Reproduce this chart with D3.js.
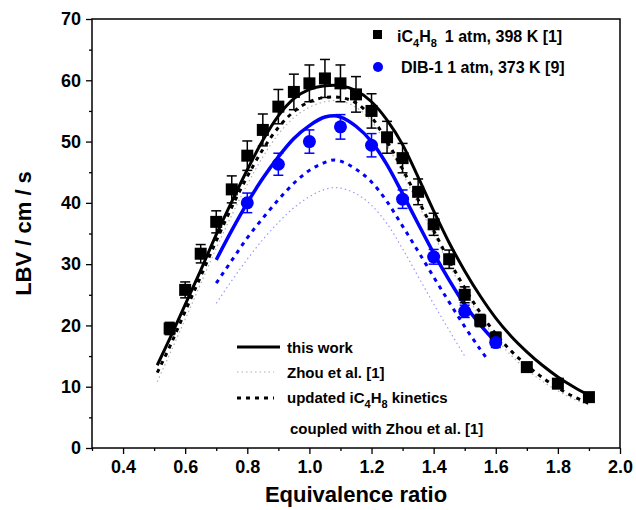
<!DOCTYPE html>
<html>
<head>
<meta charset="utf-8">
<script src="https://d3js.org/d3.v7.min.js"></script>
<style>
  body { margin: 0; background: #fff; }
  text { font-family: "Liberation Sans", Arial, sans-serif; font-weight: bold; }
</style>
</head>
<body>
<div class="chart"></div>
<script>

// Experimental data: iC4H8 1 atm, 398 K [1]
var phiIso = [0.55, 0.6, 0.65, 0.7, 0.75, 0.8, 0.85, 0.9, 0.95, 1.0, 1.05, 1.1, 1.15, 1.2, 1.25, 1.3, 1.35, 1.4, 1.45, 1.5, 1.55, 1.6, 1.7, 1.8, 1.9];
var lbvIso = [19.5, 25.8, 31.7, 36.9, 42.2, 47.7, 51.9, 55.7, 58.1, 59.5, 60.3, 59.5, 57.7, 55.0, 50.7, 47.3, 41.8, 36.5, 30.8, 25.0, 20.8, 18.0, 13.2, 10.5, 8.3];
var errIso = [1.0, 1.3, 1.5, 1.8, 2.2, 2.4, 2.6, 2.8, 2.9, 3.0, 3.1, 3.0, 2.9, 2.8, 2.6, 2.4, 2.1, 1.8, 1.5, 1.3, 1.0, 0.9, 0.7, 0.5, 0.4];

// Experimental data: DIB-1 1 atm, 373 K [9]
var phiDib = [0.8, 0.9, 1.0, 1.1, 1.2, 1.3, 1.4, 1.5, 1.6];
var lbvDib = [40.0, 46.3, 50.0, 52.4, 49.4, 40.6, 31.2, 22.3, 17.2];
var errDib = [1.6, 1.8, 1.9, 2.0, 1.9, 1.5, 1.2, 1.0, 0.8];

// Model curves, iC4H8
var phiIsoModel = [0.51, 0.55, 0.6, 0.65, 0.7, 0.75, 0.8, 0.85, 0.9, 0.95, 1.0, 1.05, 1.08, 1.1, 1.15, 1.2, 1.25, 1.3, 1.35, 1.4, 1.45, 1.5, 1.55, 1.6, 1.65, 1.7, 1.75, 1.8, 1.85, 1.9];
var isoThisWork = [13.5, 17.8, 23.4, 29.0, 34.8, 40.2, 45.4, 50.2, 54.2, 57.0, 58.5, 59.1, 59.2, 59.1, 58.3, 56.5, 53.5, 49.5, 44.2, 38.7, 33.5, 28.9, 24.8, 21.2, 18.2, 15.7, 13.5, 11.6, 10.0, 8.6];
var isoUpdated = [12.3, 16.5, 22.3, 28.0, 33.8, 39.3, 44.3, 48.7, 52.3, 54.9, 56.5, 57.2, 57.3, 57.2, 56.3, 54.0, 50.0, 45.5, 40.5, 35.5, 30.6, 26.1, 22.1, 18.6, 15.8, 13.5, 11.5, 9.8, 8.4, 7.3];
var isoZhou = [10.8, 15.3, 21.0, 26.8, 32.6, 38.0, 43.0, 47.5, 51.2, 53.9, 55.6, 56.5, 56.7, 56.6, 55.6, 53.3, 49.4, 44.8, 39.8, 34.8, 29.9, 25.4, 21.4, 17.9, 15.1, 12.8, 10.9, 9.3, 8.0, 7.0];

// Model curves, DIB-1
var phiDibModel = [0.7, 0.75, 0.8, 0.85, 0.9, 0.95, 1.0, 1.05, 1.08, 1.1, 1.15, 1.2, 1.25, 1.3, 1.35, 1.4, 1.45, 1.5, 1.55, 1.6];
var dibThisWork = [30.7, 35.5, 40.0, 44.0, 47.5, 50.5, 52.6, 54.0, 54.2, 54.0, 52.5, 50.0, 46.2, 41.5, 36.6, 31.8, 27.4, 23.4, 20.1, 17.3];
var phiDibUpd = [0.7, 0.75, 0.8, 0.85, 0.9, 0.95, 1.0, 1.05, 1.08, 1.1, 1.15, 1.2, 1.25, 1.3, 1.35, 1.4, 1.45, 1.5, 1.55, 1.57];
var dibUpdated = [26.9, 30.6, 34.3, 37.5, 40.5, 43.2, 45.3, 46.6, 47.0, 46.8, 45.5, 43.4, 40.2, 36.2, 32.1, 27.9, 23.8, 19.8, 16.1, 14.7];
var phiDibZhou = [0.7, 0.75, 0.8, 0.85, 0.9, 0.95, 1.0, 1.05, 1.08, 1.1, 1.15, 1.2, 1.25, 1.3, 1.35, 1.4, 1.45, 1.5];
var dibZhou = [23.6, 27.3, 30.8, 34.0, 36.8, 39.2, 41.0, 42.2, 42.5, 42.4, 41.5, 39.6, 36.6, 32.5, 28.0, 23.5, 19.2, 15.0];

var xTicks = [0.4, 0.6, 0.8, 1.0, 1.2, 1.4, 1.6, 1.8, 2.0];
var yTicks = [0, 10, 20, 30, 40, 50, 60, 70];

var width = 636, height = 510;
var plotLeft = 92, plotRight = 620, plotTop = 19, plotBottom = 448;

var svg = d3.select(".chart")
  .append("svg")
    .attr("width", width)
    .attr("height", height);

var x = d3.scaleLinear().domain([0.3, 2.0]).range([plotLeft, plotRight]);
var y = d3.scaleLinear().domain([0, 70]).range([plotBottom, plotTop]);

// Frame
svg.append("rect")
  .attr("x", plotLeft).attr("y", plotTop)
  .attr("width", plotRight - plotLeft).attr("height", plotBottom - plotTop)
  .style("fill", "none").style("stroke", "#000").style("stroke-width", 1.5);

// Axes
var xAxis = d3.axisBottom(x).tickValues(xTicks).tickFormat(d3.format(".1f")).tickSize(6).tickPadding(6);
var yAxis = d3.axisLeft(y).tickValues(yTicks).tickSize(6).tickPadding(5);

svg.append("g").attr("transform", "translate(0," + plotBottom + ")").call(xAxis);
svg.append("g").attr("transform", "translate(" + plotLeft + ",0)").call(yAxis);

// Minor ticks
var xMinor = d3.range(3, 20, 2).map(function(d) { return d / 10; });
var yMinor = d3.range(5, 70, 10);
svg.append("g").attr("transform", "translate(0," + plotBottom + ")")
  .call(d3.axisBottom(x).tickValues(xMinor).tickSize(3).tickFormat(""));
svg.append("g").attr("transform", "translate(" + plotLeft + ",0)")
  .call(d3.axisLeft(y).tickValues(yMinor).tickSize(3).tickFormat(""));

svg.selectAll(".domain").remove();
svg.selectAll(".tick line").style("stroke", "#000").style("stroke-width", 1.3);
svg.selectAll(".tick text").style("font-size", "18px").style("fill", "#000")
  .style("font-family", "'Liberation Sans', Arial, sans-serif").style("font-weight", "bold");

// Axis titles
svg.append("text")
  .attr("x", (plotLeft + plotRight) / 2).attr("y", 502)
  .attr("text-anchor", "middle")
  .style("font-size", "22px")
  .text("Equivalence ratio");

svg.append("text")
  .attr("transform", "translate(31," + ((plotTop + plotBottom) / 2) + ") rotate(-90)")
  .attr("text-anchor", "middle")
  .style("font-size", "22px")
  .text("LBV / cm / s");

// Curves
var line = d3.line()
  .x(function(d) { return x(d[0]); })
  .y(function(d) { return y(d[1]); })
  .curve(d3.curveMonotoneX);

function drawCurve(phis, vals, color, w, dash) {
  svg.append("path")
    .datum(d3.zip(phis, vals))
    .attr("d", line)
    .style("fill", "none")
    .style("stroke", color)
    .style("stroke-width", w)
    .style("stroke-dasharray", dash);
}

drawCurve(phiDibZhou, dibZhou, "#9a9aff", 1.2, "1.5,3");
drawCurve(phiIsoModel, isoZhou, "#b0b0b0", 1.2, "1.5,3");
drawCurve(phiDibUpd, dibUpdated, "#0000ff", 3, "4,5");
drawCurve(phiIsoModel, isoUpdated, "#000", 3, "4,5");
drawCurve(phiDibModel, dibThisWork, "#0000ff", 3.5, null);
drawCurve(phiIsoModel, isoThisWork, "#000", 3, null);

// Error bars
function drawErrors(phis, vals, errs, color) {
  var g = svg.append("g").style("stroke", color).style("stroke-width", 1.5);
  phis.forEach(function(p, i) {
    var cx = x(p), y0 = y(vals[i] - errs[i]), y1 = y(vals[i] + errs[i]);
    g.append("line").attr("x1", cx).attr("x2", cx).attr("y1", y0).attr("y2", y1);
    g.append("line").attr("x1", cx - 5).attr("x2", cx + 5).attr("y1", y0).attr("y2", y0);
    g.append("line").attr("x1", cx - 5).attr("x2", cx + 5).attr("y1", y1).attr("y2", y1);
  });
}

drawErrors(phiIso, lbvIso, errIso, "#000");
drawErrors(phiDib, lbvDib, errDib, "#0000ff");

// Markers
svg.selectAll(".sq")
  .data(d3.zip(phiIso, lbvIso))
  .enter()
  .append("rect")
  .attr("x", function(d) { return x(d[0]) - 6; })
  .attr("y", function(d) { return y(d[1]) - 6; })
  .attr("width", 12).attr("height", 12)
  .style("fill", "#000");

svg.selectAll(".dot")
  .data(d3.zip(phiDib, lbvDib))
  .enter()
  .append("circle")
  .attr("cx", function(d) { return x(d[0]); })
  .attr("cy", function(d) { return y(d[1]); })
  .attr("r", 6.5)
  .style("fill", "#0000ff");

// Legend (experiments)
svg.append("rect").attr("x", 373).attr("y", 30).attr("width", 9).attr("height", 9).style("fill", "#000");
svg.append("circle").attr("cx", 378).attr("cy", 67).attr("r", 5).style("fill", "#0000ff");

var t1 = svg.append("text").attr("x", 397).attr("y", 42).style("font-size", "16px");
t1.append("tspan").text("iC");
t1.append("tspan").attr("dy", 5).style("font-size", "11px").text("4");
t1.append("tspan").attr("dy", -5).text("H");
t1.append("tspan").attr("dy", 5).style("font-size", "11px").text("8");
t1.append("tspan").attr("dy", -5).attr("dx", 8).text("1 atm, 398 K [1]");

svg.append("text").attr("x", 401).attr("y", 73).style("font-size", "16px")
  .text("DIB-1 1 atm, 373 K [9]");

// Legend (models)
svg.append("line").attr("x1", 237).attr("x2", 280).attr("y1", 347).attr("y2", 347)
  .style("stroke", "#000").style("stroke-width", 3);
svg.append("line").attr("x1", 237).attr("x2", 274).attr("y1", 372).attr("y2", 372)
  .style("stroke", "#b0b0b0").style("stroke-width", 1.2).style("stroke-dasharray", "1.5,3");
svg.append("line").attr("x1", 237).attr("x2", 274).attr("y1", 398).attr("y2", 398)
  .style("stroke", "#000").style("stroke-width", 3).style("stroke-dasharray", "4,5");

svg.append("text").attr("x", 287).attr("y", 353).style("font-size", "15px").text("this work");
svg.append("text").attr("x", 287).attr("y", 378).style("font-size", "15px").text("Zhou et al. [1]");

var t3 = svg.append("text").attr("x", 287).attr("y", 403).style("font-size", "15px");
t3.append("tspan").text("updated iC");
t3.append("tspan").attr("dy", 5).style("font-size", "11px").text("4");
t3.append("tspan").attr("dy", -5).text("H");
t3.append("tspan").attr("dy", 5).style("font-size", "11px").text("8");
t3.append("tspan").attr("dy", -5).text(" kinetics");

svg.append("text").attr("x", 290).attr("y", 434).style("font-size", "15px").text("coupled with Zhou et al. [1]");

</script>
</body>
</html>
